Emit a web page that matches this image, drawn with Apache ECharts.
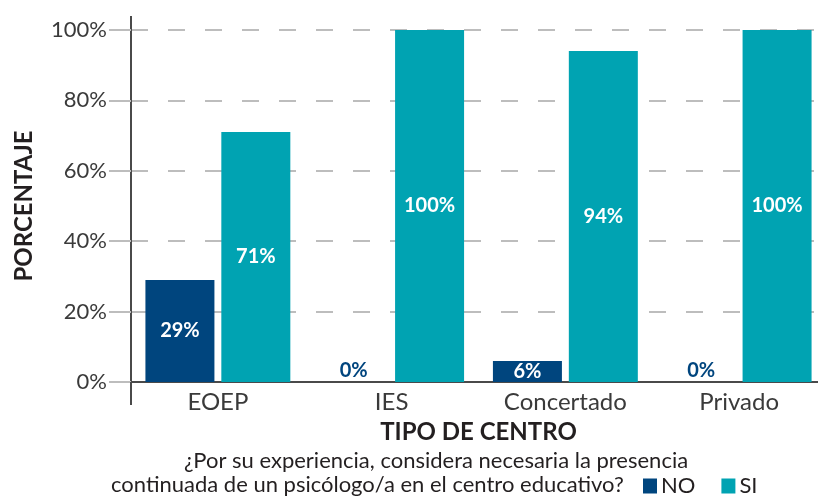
<!DOCTYPE html>
<html>
<head>
<meta charset="utf-8">
<script src="https://cdn.jsdelivr.net/npm/echarts@6/dist/echarts.min.js"></script>
<style>
  html, body { margin: 0; padding: 0; background: #fff; }
  #chart { width: 818px; height: 496px; }
</style>
</head>
<body>
<div id="chart"></div>
<script>
// datos
const categorias = ['EOEP', 'IES', 'Concertado', 'Privado']
const valoresNo = [29, 0, 6, 0]
const valoresSi = [71, 100, 94, 100]
const ticksY = [0, 20, 40, 60, 80, 100]

const NAVY = '#00457e'
const TEAL = '#00a3b2'
const FONT = 'Lato'
const GRID_LEFT = 131

const chart = echarts.init(document.getElementById('chart'))

function etiquetas(vals) {
  return vals.map(v => ({
    value: v,
    label: v === 0
      ? { position: 'top', color: NAVY, distance: 1 }
      : { position: 'inside', color: '#fff' },
  }))
}

const labelBase = {
  show: true,
  formatter: '{c}%',
  fontFamily: FONT,
  fontWeight: 'bold',
  fontSize: 20,
}

chart.setOption({
  animation: false,
  textStyle: { fontFamily: FONT },
  grid: {
    left: GRID_LEFT, top: 30, right: -8, bottom: 114,
    containLabel: false, outerBoundsMode: 'none',
  },
  xAxis: {
    type: 'category',
    data: categorias,
    name: 'TIPO DE CENTRO',
    nameLocation: 'middle',
    nameGap: 38,
    nameTextStyle: { fontSize: 24, fontWeight: 'bold', color: '#231f20', fontFamily: FONT },
    axisLine: { lineStyle: { color: '#4a4a4a', width: 2 } },
    axisTick: {
      show: true,
      interval: (i) => i === 0,
      length: 23,
      lineStyle: { color: '#4a4a4a', width: 2 },
    },
    axisLabel: { fontSize: 24, color: '#3a3a3a', margin: 8, fontFamily: FONT },
  },
  yAxis: {
    type: 'value',
    min: ticksY[0],
    max: ticksY[ticksY.length - 1],
    interval: ticksY[1] - ticksY[0],
    name: 'PORCENTAJE',
    nameLocation: 'middle',
    nameGap: 95,
    nameTextStyle: { fontSize: 24, fontWeight: 'bold', color: '#231f20', fontFamily: FONT },
    axisLine: { show: true, onZero: false, lineStyle: { color: '#4a4a4a', width: 2 } },
    axisTick: { show: true, length: 22, lineStyle: { color: '#bdbdbd', width: 2 } },
    axisLabel: { fontSize: 22, color: '#3a3a3a', margin: 24, formatter: '{value}%', fontFamily: FONT },
    splitLine: { show: true, lineStyle: { color: '#bdbdbd', width: 2, type: [17, 20] } },
  },
  legend: {
    left: 643,
    top: 475,
    padding: 0,
    itemWidth: 14,
    itemHeight: 15,
    itemGap: 26,
    icon: 'rect',
    textStyle: { fontSize: 22, color: '#231f20', fontFamily: FONT, padding: [0, 0, 0, -1] },
    data: ['NO', 'SI'],
  },
  series: [
    {
      name: 'NO',
      type: 'bar',
      data: etiquetas(valoresNo),
      barWidth: 69,
      barGap: '10%',
      itemStyle: { color: NAVY },
      label: labelBase,
    },
    {
      name: 'SI',
      type: 'bar',
      data: etiquetas(valoresSi),
      barWidth: 69,
      itemStyle: { color: TEAL },
      label: labelBase,
    },
  ],
})

// lineas del marco: eje X prolongado a la izquierda y eje Y prolongado arriba
const y0 = chart.convertToPixel({ yAxisIndex: 0 }, ticksY[0])
const yMax = chart.convertToPixel({ yAxisIndex: 0 }, ticksY[ticksY.length - 1])
chart.setOption({
  graphic: [
    {
      type: 'line',
      shape: { x1: GRID_LEFT - 22, y1: y0, x2: GRID_LEFT, y2: y0 },
      style: { stroke: '#4a4a4a', lineWidth: 2 },
    },
    {
      type: 'line',
      shape: { x1: GRID_LEFT, y1: yMax - 14, x2: GRID_LEFT, y2: yMax },
      style: { stroke: '#4a4a4a', lineWidth: 2 },
    },
    {
      type: 'text',
      x: 436,
      y: 450,
      style: {
        text: '¿Por su experiencia, considera necesaria la presencia',
        fontSize: 22,
        fill: '#231f20',
        fontFamily: FONT,
        align: 'center',
      },
    },
    {
      type: 'text',
      x: 111,
      y: 474,
      style: {
        text: 'continuada de un psicólogo/a en el centro educativo?',
        fontSize: 22,
        fill: '#231f20',
        fontFamily: FONT,
      },
    },
  ],
})
</script>
</body>
</html>
